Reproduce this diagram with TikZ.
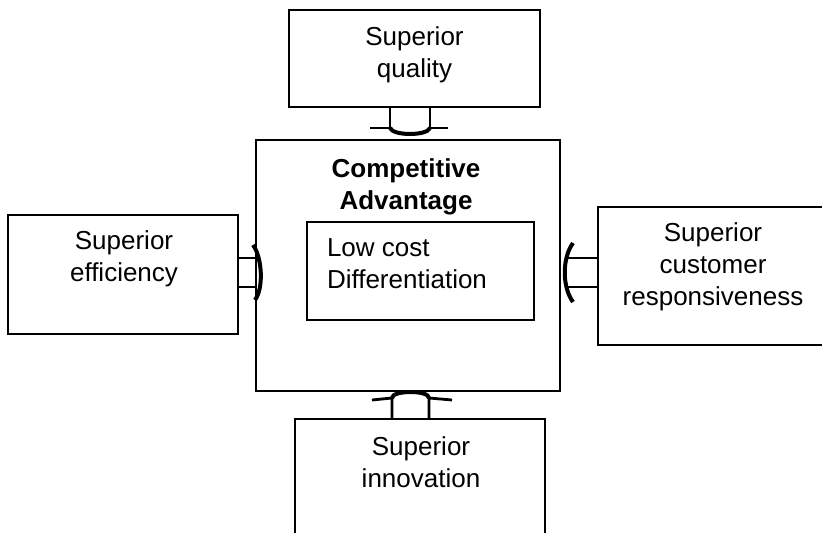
\documentclass[tikz,border=0pt]{standalone}
\usepackage{fontspec}
\setmainfont{Liberation Sans}
\usetikzlibrary{calc}

\begin{document}
\begin{tikzpicture}[x=0.5pt,y=-0.5pt,line width=1.4pt,
    every node/.style={inner sep=0,outer sep=0,font=\fontsize{13}{16}\selectfont},
    box/.style={draw},
    head/.style={line width=2pt}]
    \useasboundingbox (0,0) rectangle (822,533);

    \node[box, minimum width=125.5pt, minimum height=48.5pt](qual) at (414.5,58.5) {};
    \node[align=center](qualtxt) at (414.5,55) {Superior\\quality};

    \node[box, minimum width=152pt, minimum height=125.5pt](core) at (408,265.5) {};
    \node[align=center, font=\fontsize{13}{16}\selectfont\bfseries](title) at (406,187) {Competitive\\Advantage};
    \node[box, minimum width=113.5pt, minimum height=49pt](strat) at (420.5,271) {};
    \node[align=left, anchor=west](strattxt) at (327,264) {Low cost\\Differentiation};

    \node[box, minimum width=115pt, minimum height=59.5pt](effi) at (123,274.5) {};
    \node[align=center](effitxt) at (124,259) {Superior\\efficiency};

    \node[box, minimum width=114pt, minimum height=69pt](resp) at (712,276) {};
    \node[align=center](resptxt) at (713,267) {Superior\\customer\\responsiveness};

    \node[box, minimum width=125pt, minimum height=63pt](inno) at (420,482) {};
    \node[align=center](innotxt) at (421,462) {Superior\\innovation};

    % quality pushes down
    \draw ($(qual.south)+(-24.5,0)$) -- ++(0,21) -- ++(-20,0);
    \draw ($(qual.south)+(15.5,0)$) -- ++(0,21) -- ++(18,0);
    \draw[head] ($(qual.south)+(-24.5,21)$) .. controls +(3,8) and +(-3,8) .. ($(qual.south)+(15.5,21)$);

    % efficiency pushes right
    \draw ($(effi.east)+(0,-16.5)$) -- ++(17,0);
    \draw ($(effi.east)+(0,12.5)$) -- ++(17,0);
    \draw[head] ($(effi.east)+(15,-29.5)$) .. controls +(9,12) and +(9,-12) .. ($(effi.east)+(17,25.5)$);

    % responsiveness pushes left
    \draw ($(resp.west)+(0,-18)$) -- ++(-30,0);
    \draw ($(resp.west)+(0,11)$) -- ++(-30,0);
    \draw[head] ($(resp.west)+(-25,-33)$) .. controls +(-11,15) and +(-11,-15) .. ($(resp.west)+(-25,26)$);

    % innovation pushes up
    \draw ($(inno.north)+(-28,0)$) -- ++(0,-21) -- ++(-20,2);
    \draw ($(inno.north)+(9,0)$) -- ++(0,-21) -- ++(23,2);
    \draw[head] ($(inno.north)+(-28,-21)$) .. controls +(0,-8) and +(0,-8) .. ($(inno.north)+(9,-21)$);
\end{tikzpicture}
\end{document}
